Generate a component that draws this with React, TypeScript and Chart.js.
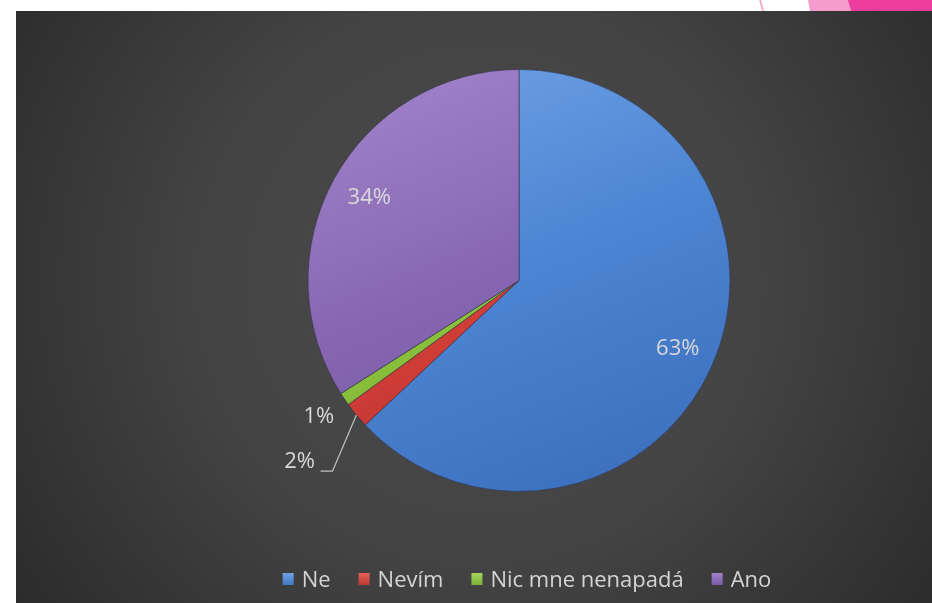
import React, { useEffect, useRef } from "react";
import { Chart, registerables } from "chart.js";

Chart.register(...registerables);

// ---- data ----
const categories = ["Ne", "Nevím", "Nic mne nenapadá", "Ano"];
const percentValues = [63, 2, 1, 34];
const percentLabels = ["63%", "2%", "1%", "34%"];

// ---- styles ----
const baseColors = ["#4d86d4", "#d6403a", "#8dc43e", "#8767b2"];
const lightColors = ["#6c9fe2", "#e35d56", "#a4d45c", "#9d80c7"];
const darkColors = ["#3c70be", "#b5312b", "#74a82e", "#71539c"];
const labelRadiusFactor = [0.82, 1.35, 1.147, 0.81];
const leaderLine = [false, true, false, false];

const FONT = '"Open Sans", "Noto Sans", sans-serif';

const backgroundPlugin = {
  id: "slideBackground",
  beforeDraw(chart: any) {
    const ctx = chart.ctx as CanvasRenderingContext2D;
    const W = chart.width;
    const H = chart.height;
    ctx.save();
    ctx.fillStyle = "#ffffff";
    ctx.fillRect(0, 0, W, H);
    // pink decorations (top right)
    ctx.strokeStyle = "#f29acb";
    ctx.lineWidth = 1.5;
    ctx.beginPath();
    ctx.moveTo(760, 0);
    ctx.lineTo(763, 11);
    ctx.stroke();
    ctx.fillStyle = "#f49ccc";
    ctx.beginPath();
    ctx.moveTo(808, 0);
    ctx.lineTo(849, 0);
    ctx.lineTo(851, 11);
    ctx.lineTo(810, 11);
    ctx.closePath();
    ctx.fill();
    ctx.fillStyle = "#ec3d9c";
    ctx.beginPath();
    ctx.moveTo(848, 0);
    ctx.lineTo(W, 0);
    ctx.lineTo(W, 11);
    ctx.lineTo(851, 11);
    ctx.closePath();
    ctx.fill();
    // dark panel
    const g = ctx.createRadialGradient(480, 280, 0, 480, 280, 640);
    g.addColorStop(0, "#4c4c4c");
    g.addColorStop(0.45, "#434343");
    g.addColorStop(1, "#252525");
    ctx.fillStyle = g;
    ctx.fillRect(16, 11, W - 16, H - 11);
    ctx.restore();
  },
};

const labelPlugin = {
  id: "pctLabels",
  afterDatasetsDraw(chart: any) {
    const meta = chart.getDatasetMeta(0);
    const ctx = chart.ctx as CanvasRenderingContext2D;
    ctx.save();
    ctx.font = `22px ${FONT}`;
    ctx.fillStyle = "#d9d9d9";
    ctx.textAlign = "center";
    ctx.textBaseline = "middle";
    meta.data.forEach((arc: any, i: number) => {
      const p = arc.getProps(["x", "y", "startAngle", "endAngle", "outerRadius"], true);
      const mid = (p.startAngle + p.endAngle) / 2;
      const f = labelRadiusFactor[i];
      const lx = p.x + Math.cos(mid) * p.outerRadius * f;
      const ly = p.y + Math.sin(mid) * p.outerRadius * f;
      if (leaderLine[i]) {
        const ex = p.x + Math.cos(mid) * p.outerRadius;
        const ey = p.y + Math.sin(mid) * p.outerRadius;
        ctx.strokeStyle = "#bfbfbf";
        ctx.lineWidth = 1.2;
        ctx.beginPath();
        ctx.moveTo(ex, ey);
        ctx.lineTo(lx + 33, ly + 9);
        ctx.lineTo(lx + 21, ly + 9);
        ctx.stroke();
      }
      ctx.fillText(percentLabels[i], lx, ly);
    });
    ctx.restore();
  },
};

const legendPlugin = {
  id: "customLegend",
  afterDraw(chart: any) {
    const ctx = chart.ctx as CanvasRenderingContext2D;
    ctx.save();
    ctx.font = `22px ${FONT}`;
    const boxW = 11;
    const boxH = 12;
    const gapBoxText = 8;
    const gapItems = 28;
    const widths = categories.map((c) => ctx.measureText(c).width);
    const total =
      widths.reduce((a, w) => a + boxW + gapBoxText + w, 0) + gapItems * (categories.length - 1);
    let x = 527 - total / 2;
    const cy = 581;
    ctx.textBaseline = "middle";
    ctx.textAlign = "left";
    categories.forEach((c, i) => {
      const g = ctx.createLinearGradient(0, cy - 7, 0, cy + 6);
      g.addColorStop(0, lightColors[i]);
      g.addColorStop(1, darkColors[i]);
      ctx.fillStyle = g;
      ctx.fillRect(x, cy - 8, boxW, boxH);
      x += boxW + gapBoxText;
      ctx.fillStyle = "#d4d4d4";
      ctx.fillText(c, x, cy);
      x += widths[i] + gapItems;
    });
    ctx.restore();
  },
};

export default function App() {
  const canvasRef = useRef<HTMLCanvasElement | null>(null);

  useEffect(() => {
    if (!canvasRef.current) return;
    const chart = new Chart(canvasRef.current, {
      type: "pie",
      data: {
        labels: categories,
        datasets: [
          {
            data: percentValues,
            backgroundColor: (c: any) => {
              const i = c.dataIndex;
              const area = c.chart.chartArea;
              if (!area) return baseColors[i];
              const cx = (area.left + area.right) / 2;
              const cy = (area.top + area.bottom) / 2;
              const r = Math.min(area.right - area.left, area.bottom - area.top) / 2;
              const g = c.chart.ctx.createLinearGradient(cx - r * 0.4, cy - r, cx + r * 0.4, cy + r);
              g.addColorStop(0, lightColors[i]);
              g.addColorStop(0.45, baseColors[i]);
              g.addColorStop(1, darkColors[i]);
              return g;
            },
            borderColor: "rgba(45,45,70,0.55)",
            borderWidth: 1,
          },
        ],
      },
      options: {
        responsive: false,
        animation: false,
        layout: { padding: { top: 69, bottom: 111, left: 106, right: 0 } },
        plugins: {
          legend: { display: false },
          tooltip: { enabled: false },
        },
      },
      plugins: [backgroundPlugin, labelPlugin, legendPlugin],
    });
    return () => chart.destroy();
  }, []);

  return (
    <div style={{ position: "fixed", left: 0, top: 0, width: 932, height: 603 }}>
      <canvas ref={canvasRef} width={932} height={603} style={{ width: 932, height: 603 }} />
    </div>
  );
}
